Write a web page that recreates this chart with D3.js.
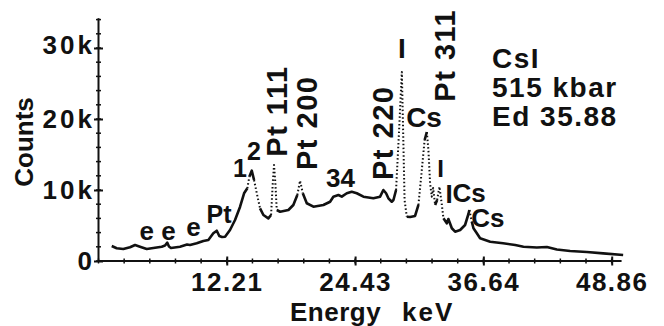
<!DOCTYPE html>
<html>
<head>
<meta charset="utf-8">
<script src="https://cdn.jsdelivr.net/npm/d3@7"></script>
<style>
body { margin: 0; background: #fff; }
svg { display: block; }
text { font-family: "Liberation Sans", Arial, Helvetica, sans-serif; font-weight: bold; fill: #111; }
</style>
</head>
<body>
<svg id="chart" width="664" height="326"></svg>
<script>
// spectrum (energy in keV, counts)
var energy = [1.26,1.73,2.36,3.00,3.48,3.95,4.59,5.38,6.02,6.33,6.55,6.71,6.90,7.76,8.43,8.71,9.35,9.98,10.46,10.93,
  11.26,11.50,11.76,12.05,12.52,13.00,13.48,13.86,14.17,14.36,14.59,14.81,15.07,15.38,15.70,16.17,16.43,16.59,16.71,16.84,
  16.97,17.29,18.08,18.55,18.93,19.19,19.45,19.83,20.46,21.41,22.05,22.36,22.84,23.16,23.64,24.11,24.59,25.22,26.17,26.81,
  27.12,27.38,27.60,27.92,28.08,28.33,28.62,28.88,29.00,29.14,29.35,29.67,30.14,30.46,30.78,31.05,31.26,31.41,31.57,31.73,
  31.86,32.05,32.24,32.46,32.69,32.84,33.16,33.31,33.64,33.95,34.43,34.90,35.22,35.31,35.54,35.70,36.02,36.33,37.29,38.52,
  39.67,40.46,41.73,42.69,43.64,44.90,46.50,48.05,49.95];
var counts = [2110,1790,1690,1930,2250,2010,1690,1870,2010,2180,2580,2040,1830,2010,2320,2250,2490,2820,2960,3900,
  4270,3520,3380,3420,4370,5770,7650,9540,10240,11870,12720,11410,9540,7420,6480,6010,6480,10940,13520,10940,
  7180,6940,7180,7890,9300,11310,9540,8130,7650,7890,8350,9060,9300,9060,9540,9760,9540,9060,8830,9060,
  10000,9540,8830,8350,8590,10000,18450,26620,18450,8590,6240,6200,6340,7890,12820,17040,18170,15630,10940,9060,
  10280,7890,8590,10460,7890,6010,5310,5920,4610,4130,4370,5070,6620,7180,5540,4610,3900,3200,2720,2490,
  2250,2010,1900,1970,1620,1410,1270,1080,850];

var xTicks = [12.21, 24.43, 36.64, 48.86];
var yTicks = [0, 10000, 20000, 30000];
var yTickLabels = ['0', '10k', '20k', '30k'];

// peak labels: text, energy, counts at the label's baseline start
var peakText = ['e', 'e', 'e', 'Pt', '1', '2', '34', 'Cs', 'I', 'I', 'I', 'Cs', 'Cs'];
var peakE = [3.90, 5.98, 8.35, 10.29, 12.80, 14.15, 21.67, 29.29, 28.52, 32.24, 33.04, 33.71, 35.48];
var peakC = [2960, 2960, 3520, 5310, 11870, 14230, 10460, 18920, 28550, 11870, 8130, 8350, 4830];
var peakSize = [26, 26, 26, 25, 25, 25, 26, 28, 28, 24, 26, 26, 26];

// rotated reflection labels
var reflText = ['Pt 111', 'Pt 200', 'Pt 220', 'Pt 311'];
var reflE = [17.92, 20.78, 28.08, 33.95];
var reflC = [14690, 12820, 11410, 22440];

var infoLines = ['CsI', '515 kbar', 'Ed 35.88'];

var svg = d3.select('#chart');

var x = d3.scaleLinear().domain([0, 48.86]).range([98.5, 611.7]);
var y = d3.scaleLinear().domain([0, 30000]).range([261, 48]);

// axis lines
svg.append('line')
    .attr('x1', x(0)).attr('x2', x(49.8))
    .attr('y1', y(0)).attr('y2', y(0))
    .attr('stroke', '#111').attr('stroke-width', 2);
svg.append('line')
    .attr('x1', x(0)).attr('x2', x(0))
    .attr('y1', y(0)).attr('y2', y(34200))
    .attr('stroke', '#111').attr('stroke-width', 2);

// minor ticks
var xMinor = d3.range(0, 49.9, 12.214 / 5);
svg.append('g').selectAll('line')
    .data(xMinor).enter().append('line')
    .attr('x1', function(d) { return x(d); })
    .attr('x2', function(d) { return x(d); })
    .attr('y1', y(0) - 2.5).attr('y2', y(0) + 2.5)
    .attr('stroke', '#111').attr('stroke-width', 1.5);
var yMinor = d3.range(0, 34001, 2000);
svg.append('g').selectAll('line')
    .data(yMinor).enter().append('line')
    .attr('y1', function(d) { return y(d); })
    .attr('y2', function(d) { return y(d); })
    .attr('x1', x(0) - 2.5).attr('x2', x(0) + 2.5)
    .attr('stroke', '#111').attr('stroke-width', 1.5);

// major ticks and labels
var xAxis = svg.append('g')
    .attr('transform', 'translate(0,' + y(0) + ')')
    .call(d3.axisBottom(x).tickValues(xTicks).tickFormat(d3.format('.2f'))
        .tickSize(4.5).tickPadding(7).tickSizeOuter(0));
xAxis.select('.domain').remove();
xAxis.selectAll('.tick line').attr('y1', -4.5).attr('stroke', '#111').attr('stroke-width', 2);
xAxis.selectAll('.tick text')
    .style('font-size', '26px')
    .style('letter-spacing', '1.5px');

var yAxis = svg.append('g')
    .attr('transform', 'translate(' + x(0) + ',0)')
    .call(d3.axisLeft(y).tickValues(yTicks)
        .tickFormat(function(d, i) { return yTickLabels[i]; })
        .tickSize(4.5).tickPadding(-1).tickSizeOuter(0));
yAxis.select('.domain').remove();
yAxis.selectAll('.tick line').attr('x1', 4.5).attr('stroke', '#111').attr('stroke-width', 2);
yAxis.selectAll('.tick text')
    .attr('dy', function(d) { return d === 30000 ? '0.2em' : '0.34em'; })
    .style('font-size', '26px')
    .style('letter-spacing', '3px');

// axis titles
svg.append('text')
    .attr('x', 290).attr('y', 321)
    .style('font-size', '26px').style('letter-spacing', '0.5px')
    .text('Energy');
svg.append('text')
    .attr('x', 402).attr('y', 321)
    .style('font-size', '26px').style('letter-spacing', '2px')
    .text('keV');
svg.append('text')
    .attr('transform', 'translate(33,142) rotate(-90)')
    .attr('text-anchor', 'middle')
    .style('font-size', '26px')
    .text('Counts');

// spectrum: steep parts are plotted as dots like the original pen plot
var pts = energy.map(function(e, i) { return [x(e), y(counts[i])]; });
var runs = [];
for (var i = 0; i < pts.length - 1; i++) {
  var dx = pts[i + 1][0] - pts[i][0];
  var dy = pts[i + 1][1] - pts[i][1];
  var steep = Math.abs(dy) > 8 && Math.abs(dy) > 4.5 * Math.abs(dx);
  var last = runs[runs.length - 1];
  if (last && last.steep === steep) {
    last.pts.push(pts[i + 1]);
  } else {
    runs.push({steep: steep, pts: [pts[i], pts[i + 1]]});
  }
}
var line = d3.line();
svg.append('g').selectAll('path')
    .data(runs).enter().append('path')
    .attr('d', function(d) { return line(d.pts); })
    .attr('fill', 'none')
    .attr('stroke', '#111')
    .attr('stroke-linejoin', 'round')
    .attr('stroke-width', function(d) { return d.steep ? 2 : 2.6; })
    .attr('stroke-dasharray', function(d) { return d.steep ? '1.5 2.3' : null; });

// peak labels
svg.append('g').selectAll('text')
    .data(peakText).enter().append('text')
    .attr('x', function(d, i) { return x(peakE[i]); })
    .attr('y', function(d, i) { return y(peakC[i]); })
    .style('font-size', function(d, i) { return peakSize[i] + 'px'; })
    .text(function(d) { return d; });

svg.append('g').selectAll('text')
    .data(reflText).enter().append('text')
    .attr('transform', function(d, i) {
      return 'translate(' + x(reflE[i]) + ',' + y(reflC[i]) + ') rotate(-90)';
    })
    .style('font-size', '29px')
    .style('letter-spacing', '1.5px')
    .text(function(d) { return d; });

// sample info
svg.append('g').selectAll('text')
    .data(infoLines).enter().append('text')
    .attr('x', 492)
    .attr('y', function(d, i) { return 68 + i * 29; })
    .style('font-size', '28px')
    .style('letter-spacing', '1.5px')
    .text(function(d) { return d; });
</script>
</body>
</html>
